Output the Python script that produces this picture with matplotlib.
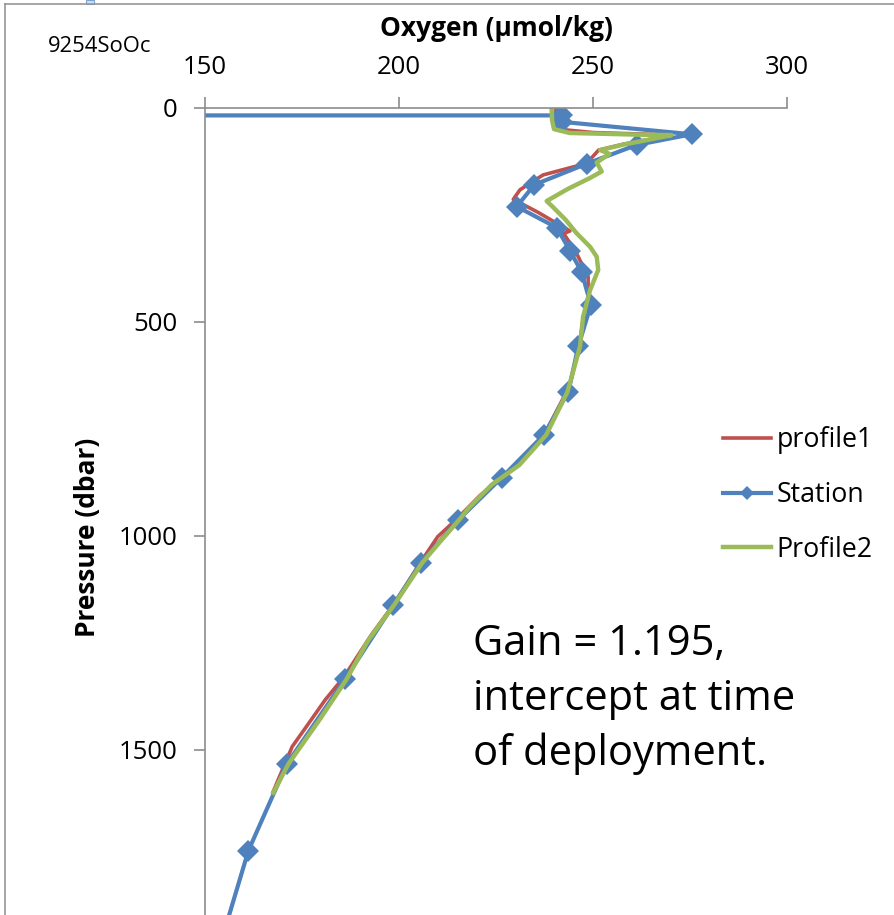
#!/usr/bin/env python

import matplotlib
matplotlib.use('Agg')
import matplotlib.pyplot as plt
from matplotlib.lines import Line2D
from matplotlib.patches import Rectangle

plt.rcParams['font.family'] = ['Open Sans', 'DejaVu Sans']

# Station bottle data (first value is a bad near-zero reading, off axis)
station_o2 = [0, 242.0, 242.0, 275.5, 261.3, 248.4, 234.9, 230.4, 240.7, 244.1,
              247.1, 249.5, 246.3, 243.7, 237.4, 226.5, 215.3, 205.7, 198.6,
              186.1, 171.1, 161.2, 154.6]
station_p = [18, 18, 33, 62, 87, 131, 180, 231, 280, 334,
             383, 461, 556, 663, 764, 864, 963, 1063, 1161,
             1335, 1533, 1735, 1935]

profile1_o2 = [240.5, 240.3, 241.0, 250.0, 268.0, 269.5, 258.0, 251.5, 248.4, 237.2,
               234.0, 231.2, 229.5, 236.0, 244.1, 242.5, 245.8, 248.8, 248.8, 247.5,
               246.3, 244.0, 240.0, 237.5, 232.0, 226.5, 221.0, 215.0, 210.0, 205.5,
               198.6, 193.0, 185.8, 181.0, 175.8, 172.5, 167.6]
profile1_p = [5, 30, 50, 58, 63, 66, 85, 99, 130, 157,
              175, 192, 214, 245, 288, 294, 340, 395, 441, 496,
              566, 650, 720, 764, 820, 864, 905, 960, 1002, 1063,
              1161, 1230, 1330, 1383, 1450, 1492, 1597]

profile2_o2 = [239.4, 239.5, 240.0, 244.0, 262.0, 270.3, 266.0, 258.0, 251.9, 254.3,
               251.0, 252.3, 249.3, 243.5, 238.1, 239.5, 243.0, 245.8, 249.3, 251.0,
               251.4, 249.3, 247.5, 246.7, 243.5, 238.0, 231.0, 224.0, 218.0, 215.5,
               210.5, 206.0, 198.8, 192.0, 186.5, 179.5, 171.5, 167.6]
profile2_p = [2, 30, 50, 59, 63, 64, 72, 86, 99, 108,
              128, 149, 164, 190, 218, 230, 262, 293, 325, 348,
              379, 426, 488, 558, 663, 764, 835, 880, 935, 963,
              1015, 1063, 1161, 1245, 1335, 1430, 1533, 1600]

x_ticks = [150, 200, 250, 300]
y_ticks = [0, 500, 1000, 1500]

W, H = 895, 915
fig = plt.figure(figsize=(W / 100, H / 100), dpi=100)

# plot area continues below the visible picture
ax = fig.add_axes([205 / W, 1 - 964 / H, (786.7 - 205) / W, (964 - 107.7) / H])

ax.plot(profile1_o2, profile1_p, color='#C0504D', lw=2.6, label='profile1')
ax.plot(station_o2, station_p, color='#4F81BD', lw=3, marker='D', markersize=11.5,
        markeredgewidth=0, label='Station')
ax.plot(profile2_o2, profile2_p, color='#9BBB59', lw=3.2, label='Profile2')

ax.set_xlim(150, 300)
ax.set_ylim(2000, 0)
ax.set_xticks(x_ticks)
ax.set_yticks(y_ticks)
ax.xaxis.tick_top()

for s in ['right', 'bottom']:
    ax.spines[s].set_visible(False)
for s in ['top', 'left']:
    ax.spines[s].set_color('#8c8c8c')
    ax.spines[s].set_linewidth(1.2)
ax.tick_params(axis='both', direction='out', length=8, width=1.2, color='#8c8c8c',
               labelsize=18.5)
ax.tick_params(axis='x', pad=12)
ax.tick_params(axis='y', pad=12)

fig.text(496 / W, 1 - 29 / H, 'Oxygen (µmol/kg)', ha='center', va='center',
         fontsize=19, fontweight='bold')
fig.text(88 / W, 1 - 537 / H, 'Pressure (dbar)', ha='center', va='center',
         rotation=90, fontsize=19, fontweight='bold')
fig.text(48 / W, 1 - 46 / H, '9254SoOc', ha='left', va='center', fontsize=15.8)

fig.text(473 / W, 1 - 765 / H, 'Gain = 1.195,\nintercept at time\nof deployment.',
         ha='left', va='baseline', fontsize=30, linespacing=1.39)

ax.legend(loc='center left', bbox_to_anchor=(723 / W, 1 - 495 / H),
          bbox_transform=fig.transFigure, frameon=False, fontsize=19.3,
          handlelength=1.8, handletextpad=0.2, labelspacing=1.0,
          borderpad=0, borderaxespad=0, markerscale=0.6)

# chart area border and the little selection handle at the top
fig.add_artist(Line2D([5 / W, 1], [1 - 3.5 / H, 1 - 3.5 / H], color='#969696', lw=1.2))
fig.add_artist(Line2D([5 / W, 5 / W], [0, 1 - 3.5 / H], color='#969696', lw=1.2))
fig.add_artist(Rectangle((86 / W, 1 - 4 / H), 8 / W, 4 / H, facecolor='#cfe0f5',
                         edgecolor='#7fa3d1', lw=0.8, transform=fig.transFigure))

fig.savefig('out.png', dpi=100)
